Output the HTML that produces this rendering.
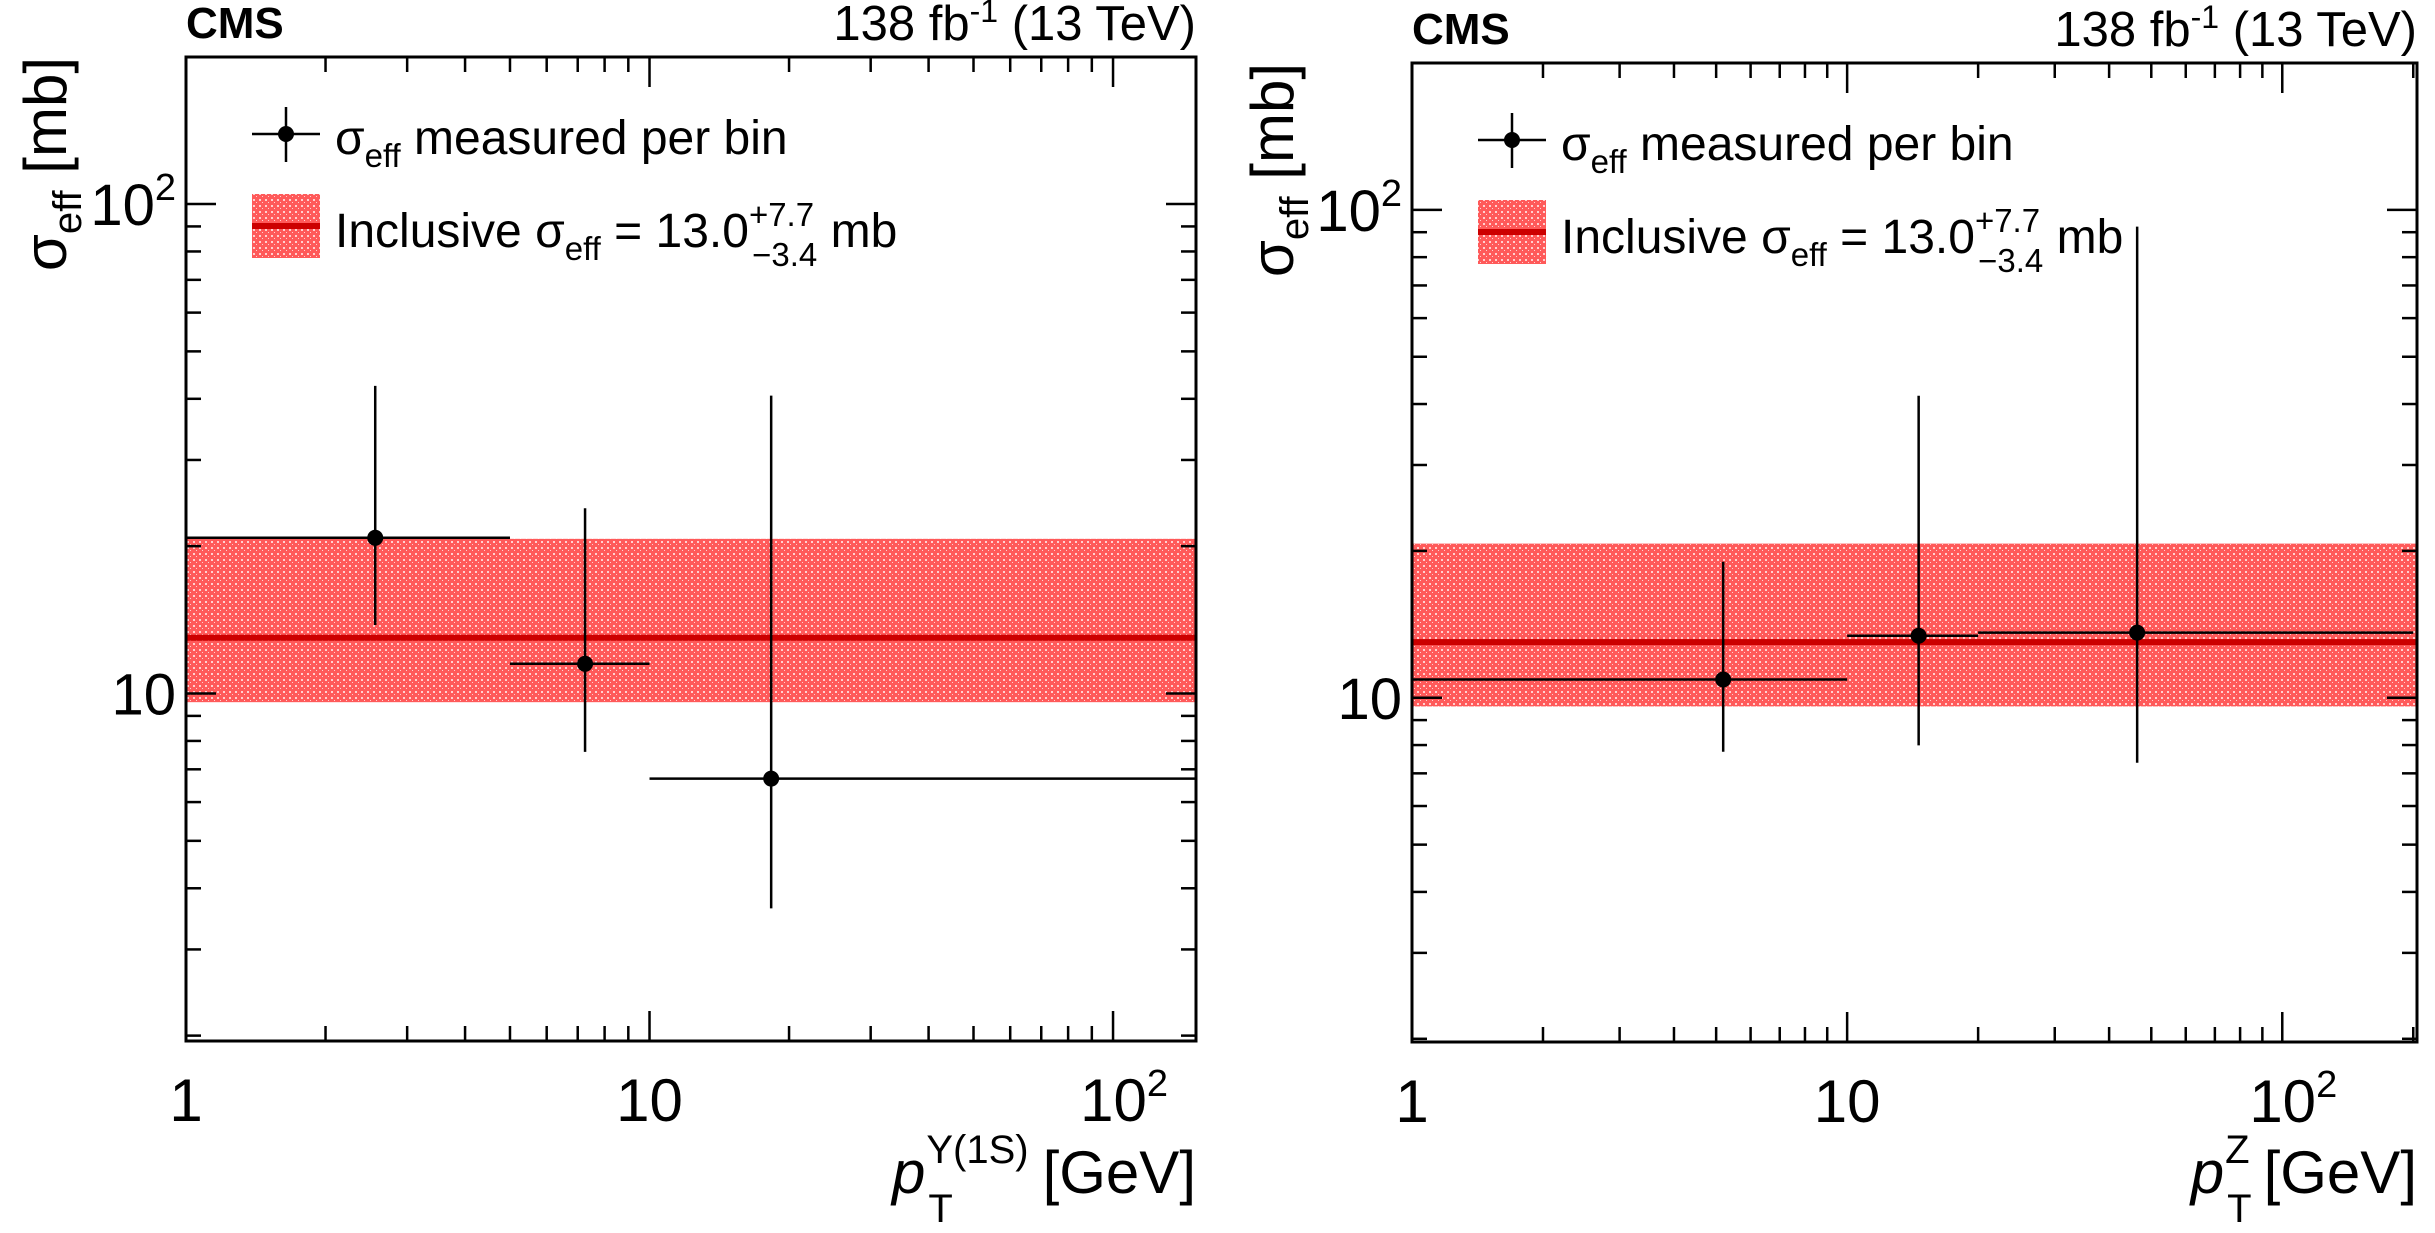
<!DOCTYPE html>
<html><head><meta charset="utf-8">
<style>
html,body{margin:0;padding:0;background:#fff;}
svg{display:block;font-family:"Liberation Sans",Arial,sans-serif;}
</style></head>
<body>
<svg id="chart" width="2435" height="1233" viewBox="0 0 2435 1233" xmlns="http://www.w3.org/2000/svg">
<defs>
<pattern id="hatch" width="6" height="6" patternUnits="userSpaceOnUse">
<rect width="6" height="6" fill="#ff5a5a"/>
<rect x="1" y="1" width="2" height="2" fill="#ffd0d0"/>
<rect x="4" y="4" width="1" height="1" fill="#ffd0d0"/>
</pattern>
</defs>
</svg>
<script>
// Left panel data (Upsilon pT bins)
const upsXLow = [1, 5, 10];
const upsXHigh = [5, 10, 150];
const upsX = [2.56, 7.26, 18.3];
const upsY = [20.8, 11.5, 6.7];
const upsYUp = [42.5, 23.9, 40.6];
const upsYDown = [13.8, 7.6, 3.64];
// Right panel data (Z pT bins)
const zXLow = [1, 10, 20];
const zXHigh = [10, 20, 200];
const zX = [5.19, 14.6, 46.4];
const zY = [10.9, 13.4, 13.6];
const zYUp = [19.0, 41.6, 92.4];
const zYDown = [7.75, 7.99, 7.36];
// Inclusive value
const inclCentral = [13.0];
const inclUp = [20.7];
const inclDown = [9.6];
const yTickVals = [10, 100];
const yTickBase = ["10", "10"];
const yTickExp = ["", "2"];
const xTickVals = [1, 10, 100];
const xTickBase = ["1", "10", "10"];
const xTickExp = ["", "", "2"];

const NS = "http://www.w3.org/2000/svg";
const svg = document.getElementById("chart");
function mk(tag, attrs, parent) {
  const e = document.createElementNS(NS, tag);
  for (const k in attrs) e.setAttribute(k, attrs[k]);
  (parent || svg).appendChild(e);
  return e;
}
function powLabel(base, exp) {
  return exp ? base + '<tspan font-size="38" dy="-25">' + exp + '</tspan>' : base;
}

function drawPanel(P) {
  const g = mk("g", {});
  
  
  const lx0 = Math.log10(P.xmin), lx1 = Math.log10(P.xmax);
  const ly0 = Math.log10(P.ymin), ly1 = Math.log10(P.ymax);
  const X = v => P.x0 + (Math.log10(v) - lx0) / (lx1 - lx0) * (P.x1 - P.x0);
  const Y = v => P.y1 - (Math.log10(v) - ly0) / (ly1 - ly0) * (P.y1 - P.y0);

  const band = mk("rect", {x: P.x0, y: Y(inclUp[0]), width: P.x1 - P.x0, height: Y(inclDown[0]) - Y(inclUp[0]), fill: "url(#hatch)"}, g);
  
  
  const cl = mk("line", {x1: P.x0, x2: P.x1, y1: Y(inclCentral[0]), y2: Y(inclCentral[0]), stroke: "#cc0000", "stroke-width": 6}, g);
  
  

  for (let i = 0; i < P.xs.length; i++) {
    const pg = mk("g", {stroke: "#000", "stroke-width": 2.5}, g);
    
    
    mk("line", {x1: X(P.xl[i]), x2: X(P.xh[i]), y1: Y(P.ys[i]), y2: Y(P.ys[i])}, pg);
    mk("line", {x1: X(P.xs[i]), x2: X(P.xs[i]), y1: Y(P.yu[i]), y2: Y(P.yd[i])}, pg);
    mk("circle", {cx: X(P.xs[i]), cy: Y(P.ys[i]), r: 8, fill: "#000", stroke: "none"}, pg);
  }

  const tg = mk("g", {stroke: "#000", "stroke-width": 2.5}, g);
  
  
  for (let d = -1; d <= 3; d++) for (let m = 1; m <= 9; m++) {
    const v = m * Math.pow(10, d);
    const L = m === 1 ? 30 : 15;
    if (v >= P.ymin && v <= P.ymax) {
      const y = Y(v);
      mk("line", {x1: P.x0, x2: P.x0 + L, y1: y, y2: y}, tg);
      mk("line", {x1: P.x1, x2: P.x1 - L, y1: y, y2: y}, tg);
    }
    if (v >= P.xmin && v <= P.xmax) {
      const x = X(v);
      mk("line", {x1: x, x2: x, y1: P.y1, y2: P.y1 - L}, tg);
      mk("line", {x1: x, x2: x, y1: P.y0, y2: P.y0 + L}, tg);
    }
  }
  const fr = mk("rect", {x: P.x0, y: P.y0, width: P.x1 - P.x0, height: P.y1 - P.y0, fill: "none", stroke: "#000", "stroke-width": 3}, g);
  
  

  for (let i = 0; i < yTickVals.length; i++) {
    const t = mk("text", {x: P.x0 - 10, y: Y(yTickVals[i]) + 21, "font-size": 58, "text-anchor": "end"}, g);
    t.innerHTML = powLabel(yTickBase[i], yTickExp[i]);
    
    
  }
  for (let i = 0; i < xTickVals.length; i++) {
    const t = mk("text", {x: X(xTickVals[i]) + (xTickExp[i] ? 11 : 0), y: P.y1 + 80, "font-size": 60, "text-anchor": "middle"}, g);
    t.innerHTML = powLabel(xTickBase[i], xTickExp[i]);
    
    
  }

  const yt = mk("text", {transform: "translate(" + P.ytx + "," + P.y0 + ") rotate(-90)", "font-size": 60, "text-anchor": "end"}, g);
  yt.innerHTML = 'σ<tspan font-size="40" dy="15">eff</tspan><tspan dy="-15"> [mb]</tspan>';
  
  

  const xg = mk("g", {}, g);
  
  
  const gev = mk("text", {x: P.x1, y: 1193, "font-size": 60, "text-anchor": "end"}, xg);
  gev.textContent = "[GeV]";
  const wg = gev.getComputedTextLength();
  const supEnd = P.x1 - wg - 14;
  const sup = mk("text", {x: supEnd, y: 1163, "font-size": 40, "text-anchor": "end"}, xg);
  sup.textContent = P.xsup;
  const ws = sup.getComputedTextLength();
  const supStart = supEnd - ws;
  const sub = mk("text", {x: supStart + 2, y: 1222, "font-size": 40}, xg);
  sub.textContent = "T";
  const pp = mk("text", {x: supStart - 1, y: 1193, "font-size": 60, "font-style": "italic", "text-anchor": "end"}, xg);
  pp.textContent = "p";

  const cms = mk("text", {x: P.x0, y: P.y0 - 19, "font-size": 44, "font-weight": "bold"}, g);
  cms.textContent = "CMS";
  
  
  const lum = mk("text", {x: P.x1, y: P.y0 - 17, "font-size": 49, "text-anchor": "end"}, g);
  lum.innerHTML = '138 fb<tspan font-size="32" dy="-18">-1</tspan><tspan dy="18"> (13 TeV)</tspan>';
  
  

  const lg = mk("g", {}, g);
  
  
  const mx = P.x0 + 100, my = P.y0 + 77;
  const le1 = mk("g", {stroke: "#000", "stroke-width": 2.5}, lg);
  
  
  mk("line", {x1: mx - 34, x2: mx + 34, y1: my, y2: my}, le1);
  mk("line", {x1: mx, x2: mx, y1: my - 27, y2: my + 28}, le1);
  mk("circle", {cx: mx, cy: my, r: 8, fill: "#000", stroke: "none"}, le1);
  const t1 = mk("text", {x: mx + 49, y: my + 20, "font-size": 48}, lg);
  t1.innerHTML = 'σ<tspan font-size="33" dy="13">eff</tspan><tspan dy="-13"> measured per bin</tspan>';
  
  
  const by = P.y0 + 137;
  const le2 = mk("rect", {x: mx - 34, y: by, width: 68, height: 64, fill: "url(#hatch)"}, lg);
  
  
  mk("line", {x1: mx - 34, x2: mx + 34, y1: by + 32, y2: by + 32, stroke: "#cc0000", "stroke-width": 6}, lg);
  const t2 = mk("text", {x: mx + 49, y: by + 53, "font-size": 48}, lg);
  t2.innerHTML = 'Inclusive σ<tspan font-size="33" dy="13">eff</tspan><tspan dy="-13"> = 13.0</tspan><tspan font-size="33" dy="-21">+7.7</tspan><tspan font-size="33" dx="-62" dy="40">−3.4</tspan><tspan dy="-19"> mb</tspan>';
  
  
}

drawPanel({name: "panel-upsilon", x0: 186, x1: 1196, y0: 57, y1: 1041, xmin: 1, xmax: 151, ymin: 1.95, ymax: 199.7,
  xs: upsX, ys: upsY, xl: upsXLow, xh: upsXHigh, yu: upsYUp, yd: upsYDown, ytx: 66, xsup: "Υ(1S)"});
drawPanel({name: "panel-z", x0: 1412, x1: 2417, y0: 63, y1: 1042, xmin: 1, xmax: 204, ymin: 1.97, ymax: 200,
  xs: zX, ys: zY, xl: zXLow, xh: zXHigh, yu: zYUp, yd: zYDown, ytx: 1293, xsup: "Z"});
</script>
</body></html>
